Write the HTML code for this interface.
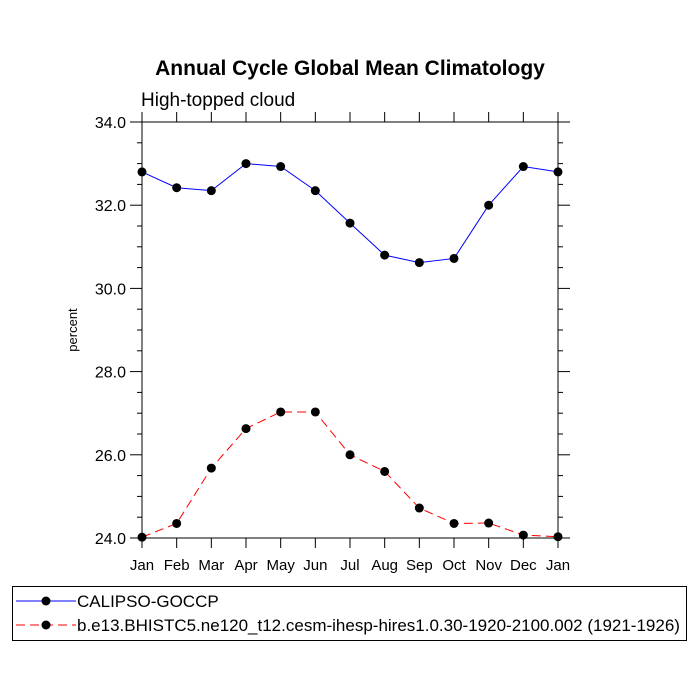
<!DOCTYPE html>
<html><head><meta charset="utf-8"><style>body{margin:0;background:#fff}svg{display:block;font-family:"Liberation Sans",sans-serif}</style></head>
<body>
<svg id="chart" width="700" height="700">
<text x="350" y="75" text-anchor="middle" font-size="21" font-weight="bold">Annual Cycle Global Mean Climatology</text>
<text x="141" y="106" font-size="19">High-topped cloud</text>
<text transform="translate(77,330) rotate(-90)" text-anchor="middle" font-size="13">percent</text>
<g id="axes"></g><g id="series"></g>
<g>
<rect x="12.5" y="586.5" width="674" height="54" fill="none" stroke="#000"/>
<g><line x1="16" y1="601" x2="76" y2="601" stroke="#00f"/><circle cx="46" cy="601" r="4.5"/><text x="77" y="607" font-size="17">CALIPSO-GOCCP</text></g>
<g><line x1="16" y1="625" x2="76" y2="625" stroke="#f00" stroke-dasharray="9,5"/><circle cx="46" cy="625" r="4.5"/><text x="77" y="631" font-size="17">b.e13.BHISTC5.ne120_t12.cesm-ihesp-hires1.0.30-1920-2100.002 (1921-1926)</text></g>
</g>
</svg>
<script>
const months=["Jan","Feb","Mar","Apr","May","Jun","Jul","Aug","Sep","Oct","Nov","Dec","Jan"];
const obsValues=[32.8,32.42,32.35,33.0,32.93,32.35,31.57,30.8,30.62,30.72,32.0,32.93,32.8];
const modelValues=[24.02,24.35,25.68,26.63,27.03,27.03,26.0,25.6,24.72,24.35,24.36,24.07,24.03];
const yTicks=[24,26,28,30,32,34];
const NS="http://www.w3.org/2000/svg";
const L=142,R=558,T=122,B=538,ymin=24,ymax=34;
const xs=i=>L+(R-L)*i/(months.length-1);
const ys=v=>B-(v-ymin)/(ymax-ymin)*(B-T);
function mk(p,t,a){const e=document.createElementNS(NS,t);for(const k in a)e.setAttribute(k,a[k]);p.appendChild(e);return e;}
const ax=document.getElementById('axes');
const frame=mk(ax,'rect',{x:L,y:T,width:R-L,height:B-T,fill:'none',stroke:'#000','stroke-width':1});


months.forEach((m,i)=>{const x=xs(i);
mk(ax,'line',{x1:x,y1:B,x2:x,y2:B+10,stroke:'#000'});
mk(ax,'line',{x1:x,y1:T,x2:x,y2:T-10,stroke:'#000'});
const t=mk(ax,'text',{x:x,y:B+32,'text-anchor':'middle','font-size':15});t.textContent=m;

});
for(let v=ymin;v<=ymax+1e-9;v+=0.5){const y=ys(v);const major=Math.abs(v%2)<1e-9;const len=major?12:5;
mk(ax,'line',{x1:L,y1:y,x2:L-len,y2:y,stroke:'#000'});
mk(ax,'line',{x1:R,y1:y,x2:R+len,y2:y,stroke:'#000'});}
yTicks.forEach(v=>{const t=mk(ax,'text',{x:L-16,y:ys(v)+6,'text-anchor':'end','font-size':16});t.textContent=v.toFixed(1);

});
const sg=document.getElementById('series');
function series(vals,color,dash,name){const g=mk(sg,'g',{});


const a={points:vals.map((v,i)=>xs(i)+','+ys(v)).join(' '),fill:'none',stroke:color,'stroke-width':1};if(dash)a['stroke-dasharray']=dash;mk(g,'polyline',a);
vals.forEach((v,i)=>{const c=mk(g,'circle',{cx:xs(i),cy:ys(v),r:4.5});

});}
series(obsValues,'#00f',null,'series-calipso');
series(modelValues,'#f00','9,5','series-cesm');
</script>
</body></html>
